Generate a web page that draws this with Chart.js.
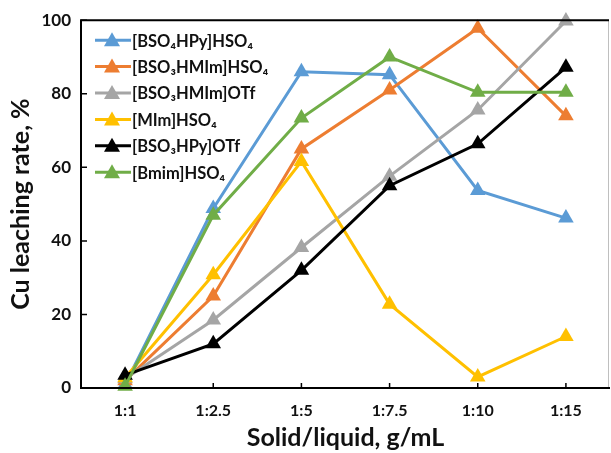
<!DOCTYPE html>
<html>
<head>
<meta charset="utf-8">
<script src="https://cdn.jsdelivr.net/npm/chart.js@4"></script>
<style>
  html, body { margin: 0; padding: 0; background: #fff; }
  #wrap { width: 611px; height: 453px; position: relative; }
</style>
</head>
<body>
<div id="wrap"><canvas id="chart"></canvas></div>
<script>
// Cu leaching rate vs solid/liquid ratio for six ionic liquids

const ratios = ['1:1', '1:2.5', '1:5', '1:7.5', '1:10', '1:15'];
const yTicks = [0, 20, 40, 60, 80, 100];

const names = ['[BSO₄HPy]HSO₄', '[BSO₃HMIm]HSO₄', '[BSO₃HMIm]OTf',
               '[MIm]HSO₄', '[BSO₃HPy]OTf', '[Bmim]HSO₄'];

const bso4hpyHso4  = [1.0, 48.8, 86.0, 85.2, 53.7, 46.2];
const bso3hmimHso4 = [2.0, 25.0, 65.0, 81.0, 97.8, 74.0];
const bso3hmimOtf  = [2.5, 18.5, 38.2, 57.6, 75.6, 99.8];
const mimHso4      = [2.8, 30.8, 61.6, 22.8, 3.0, 14.0];
const bso3hpyOtf   = [3.5, 12.0, 32.0, 55.0, 66.4, 87.2];
const bmimHso4     = [0.5, 47.0, 73.4, 90.0, 80.4, 80.4];

const colors = ['#5B9BD5', '#ED7D31', '#A5A5A5', '#FFC000', '#000000', '#70AD47'];
const series = [bso4hpyHso4, bso3hmimHso4, bso3hmimOtf, mimHso4, bso3hpyOtf, bmimHso4];

const FONT = 'Lato, "Open Sans", sans-serif';

// frame, inward ticks and the boxed legend
const framePlugin = {
  id: 'frame',
  afterDatasetsDraw(chart) {
    const { ctx, chartArea: a, scales: { x, y } } = chart;
    ctx.save();
    ctx.strokeStyle = '#bfbfbf';
    ctx.lineWidth = 1;
    ctx.beginPath();
    ctx.moveTo(a.right - 1.5, a.top);
    ctx.lineTo(a.right - 1.5, a.bottom);
    ctx.stroke();

    ctx.strokeStyle = '#000';
    ctx.lineWidth = 2;
    ctx.beginPath();
    ctx.moveTo(a.right - 1, a.top);
    ctx.lineTo(a.left, a.top);
    ctx.lineTo(a.left, a.bottom);
    ctx.lineTo(a.right, a.bottom);
    ctx.stroke();

    ctx.lineWidth = 1.5;
    ctx.beginPath();
    yTicks.forEach(v => {
      const py = y.getPixelForValue(v);
      ctx.moveTo(a.left, py);
      ctx.lineTo(a.left + 6, py);
    });
    ratios.forEach((r, i) => {
      if (i === 0) return;
      const px = x.getPixelForValue(i);
      ctx.moveTo(px, a.bottom);
      ctx.lineTo(px, a.bottom - 5);
    });
    ctx.stroke();

    // legend
    ctx.font = 'bold 16.5px ' + FONT;
    ctx.textBaseline = 'middle';
    names.forEach((n, i) => {
      const ly = a.top + 20 + i * 26.4;
      ctx.strokeStyle = colors[i];
      ctx.fillStyle = colors[i];
      ctx.lineWidth = 3;
      ctx.beginPath();
      ctx.moveTo(a.left + 14, ly);
      ctx.lineTo(a.left + 50, ly);
      ctx.stroke();
      ctx.beginPath();
      ctx.moveTo(a.left + 31, ly - 8);
      ctx.lineTo(a.left + 39, ly + 6);
      ctx.lineTo(a.left + 23, ly + 6);
      ctx.closePath();
      ctx.fill();
      ctx.fillStyle = '#111';
      ctx.fillText(n, a.left + 51, ly + 1);
    });
    ctx.restore();
  }
};

new Chart(document.getElementById('chart'), {
  type: 'line',
  data: {
    labels: ratios,
    datasets: series.map((d, i) => ({
      label: names[i],
      data: d,
      borderColor: colors[i],
      backgroundColor: colors[i],
      borderWidth: 3,
      pointStyle: 'triangle',
      pointRadius: 9,
      pointBorderWidth: 0,
      tension: 0,
      clip: false,
      order: series.length - i
    }))
  },
  options: {
    responsive: true,
    maintainAspectRatio: false,
    animation: false,
    layout: { autoPadding: false, padding: { top: 18, right: 1, left: 0, bottom: 0 } },
    plugins: {
      legend: { display: false },
      tooltip: { enabled: false }
    },
    scales: {
      x: {
        offset: true,
        grid: { display: false, drawTicks: false },
        border: { display: false },
        ticks: { color: '#111', font: { family: FONT, size: 16, weight: 'bold' }, padding: 13 },
        title: {
          display: true,
          text: 'Solid/liquid, g/mL',
          color: '#111',
          font: { family: FONT, size: 25, weight: 'bold' },
          padding: { top: 4, bottom: 0 }
        },
        afterFit(s) { s.height = 65; }
      },
      y: {
        min: 0,
        max: 100,
        grid: { display: false, drawTicks: false },
        border: { display: false },
        ticks: {
          stepSize: 20,
          color: '#111',
          font: { family: FONT, size: 17, weight: 'bold' },
          padding: 10
        },
        title: {
          display: true,
          text: 'Cu leaching rate, %',
          color: '#111',
          font: { family: FONT, size: 25, weight: 'bold' },
          padding: { top: 6, bottom: 4 }
        },
        afterFit(s) { s.width = 81; }
      }
    }
  },
  plugins: [framePlugin]
});
</script>
</body>
</html>
